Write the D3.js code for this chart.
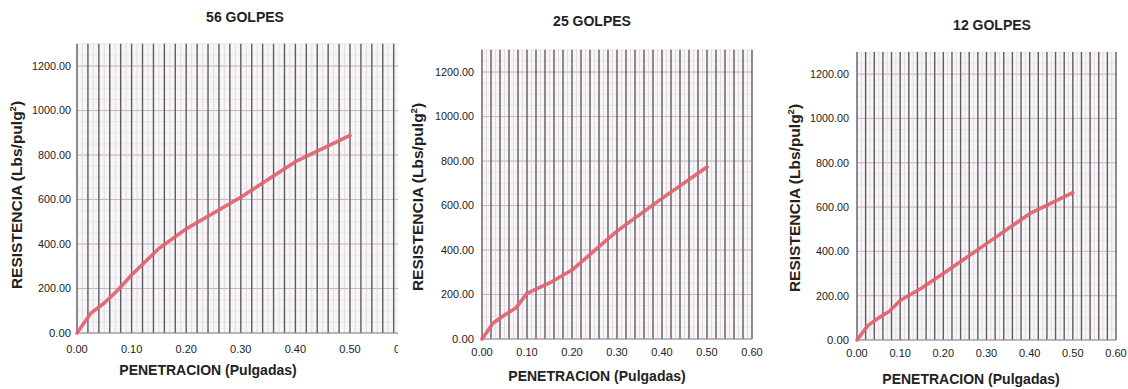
<!DOCTYPE html>
<html><head><meta charset="utf-8">
<script src="https://cdn.jsdelivr.net/npm/d3@7/dist/d3.min.js"></script>
<style>
body{margin:0;background:#fff;}
svg{display:block;font-family:"Liberation Sans",Arial,sans-serif;}
</style></head>
<body>
<svg id="c" width="1128" height="389"></svg>
<script>
// ---- data ----
const penetracion = [0, 0.025, 0.05, 0.075, 0.1, 0.15, 0.2, 0.3, 0.4, 0.5];
const golpes56 = [0, 88, 135, 193, 261, 380, 468, 610, 770, 888];
const golpes25 = [0, 72, 108, 139, 205, 252, 310, 485, 632, 773];
const golpes12 = [0, 65, 100, 130, 178, 235, 300, 435, 570, 665];
const titles = ["56 GOLPES", "25 GOLPES", "12 GOLPES"];
const xTicks = [0, 0.1, 0.2, 0.3, 0.4, 0.5, 0.6];
const yTicks = [0, 200, 400, 600, 800, 1000, 1200];
const xTitle = "PENETRACION (Pulgadas)";
const yTitle = "RESISTENCIA (Lbs/pulg";

const series = [golpes56, golpes25, golpes12];

// ---- layout per panel ----
const panels = [
  {x0:77, x6:404.6, y0:333, yTop:43.8, bgLeft:0, bgRight:398, titleX:245, titleY:22, xlabY:353, xtitleX:208, xtitleY:375, ytitleX:22, ytitleY:195, labGap:6},
  {x0:482, x6:752, y0:339, yTop:49.8, bgLeft:398, bgRight:768, titleX:592, titleY:26, xlabY:356, xtitleX:597, xtitleY:381, ytitleX:423, ytitleY:197, labGap:8},
  {x0:857, x6:1116, y0:340, yTop:52, bgLeft:768, bgRight:1128, titleX:992, titleY:30, xlabY:357, xtitleX:971, xtitleY:384, ytitleX:800, ytitleY:198, labGap:8}
];

const svg = d3.select("#c");
const fmt = d3.format(".2f");

panels.forEach((p, i) => {
  const g = svg.append("g");
  g.append("rect").attr("x", p.bgLeft).attr("y", 0).attr("width", p.bgRight - p.bgLeft).attr("height", 389).attr("fill", "#fff");

  const x = d3.scaleLinear().domain([0, 0.6]).range([p.x0, p.x6]);
  const y = d3.scaleLinear().domain([0, 1300]).range([p.y0, p.yTop]);

  g.append("rect").attr("x", x(0)).attr("y", y(1300)).attr("width", x(0.6) - x(0)).attr("height", y(0) - y(1300)).attr("fill", "#f7f5f7");

  const minorX = d3.range(0.01, 0.6001, 0.02);
  g.selectAll(".mx").data(minorX).join("line")
    .attr("x1", d => x(d)).attr("x2", d => x(d)).attr("y1", y(0)).attr("y2", y(1300))
    .attr("stroke", "#dcd6dc").attr("stroke-width", 0.8);
  const minorY = d3.range(0, 1300.1, 50);
  g.selectAll(".my").data(minorY).join("line")
    .attr("x1", x(0)).attr("x2", x(0.6)).attr("y1", d => y(d)).attr("y2", d => y(d))
    .attr("stroke", "#e6e1e6").attr("stroke-width", 0.7);
  g.selectAll(".hy").data(yTicks).join("line")
    .attr("x1", x(0)).attr("x2", x(0.6)).attr("y1", d => y(d)).attr("y2", d => y(d))
    .attr("stroke", "#c4b9c2").attr("stroke-width", 1);
  const majorX = d3.range(0, 0.6001, 0.02);
  g.selectAll(".vx").data(majorX).join("line")
    .attr("x1", d => x(d)).attr("x2", d => x(d)).attr("y1", y(0)).attr("y2", y(1300))
    .attr("stroke", "#5f5b60").attr("stroke-width", 1.4);
  g.append("line").attr("x1", x(0)).attr("x2", x(0.6)).attr("y1", y(0)).attr("y2", y(0)).attr("stroke", "#9a949a").attr("stroke-width", 1);

  g.selectAll(".yl").data(yTicks).join("text")
    .attr("x", x(0) - p.labGap).attr("y", d => y(d)).attr("dy", "0.35em")
    .attr("text-anchor", "end").attr("font-size", 11).attr("fill", "#222")
    .attr("lengthAdjust", "spacingAndGlyphs")
    .attr("textLength", d => d >= 1000 ? 39 : (d >= 100 ? 33 : 22))
    .text(d => fmt(d));
  g.selectAll(".xl").data(xTicks).join("text")
    .attr("x", d => x(d)).attr("y", p.xlabY)
    .attr("text-anchor", "middle").attr("font-size", 11).attr("fill", "#222")
    .text(d => fmt(d));

  const pts = penetracion.map((v, k) => [v, series[i][k]]);
  g.append("path").datum(pts)
    .attr("d", d3.line().x(d => x(d[0])).y(d => y(d[1])))
    .attr("fill", "none").attr("stroke", "#e25f70").attr("stroke-width", 3.6)
    .attr("stroke-linejoin", "round").attr("stroke-linecap", "round").attr("opacity", 0.92);

  g.append("text").attr("x", p.titleX).attr("y", p.titleY).attr("text-anchor", "middle")
    .attr("font-size", 14).attr("font-weight", "bold").attr("fill", "#222").text(titles[i]);
  g.append("text").attr("x", p.xtitleX).attr("y", p.xtitleY).attr("text-anchor", "middle")
    .attr("font-size", 14).attr("font-weight", "bold").attr("fill", "#222").text(xTitle);
  const yt = g.append("text").attr("transform", `translate(${p.ytitleX},${p.ytitleY}) rotate(-90)`)
    .attr("text-anchor", "middle").attr("font-size", 15.5).attr("font-weight", "bold").attr("fill", "#222");
  yt.append("tspan").text(yTitle);
  yt.append("tspan").attr("font-size", 9.5).attr("dy", -6).text("2");
  yt.append("tspan").attr("dy", 6).text(")");
});
</script>
</body></html>
